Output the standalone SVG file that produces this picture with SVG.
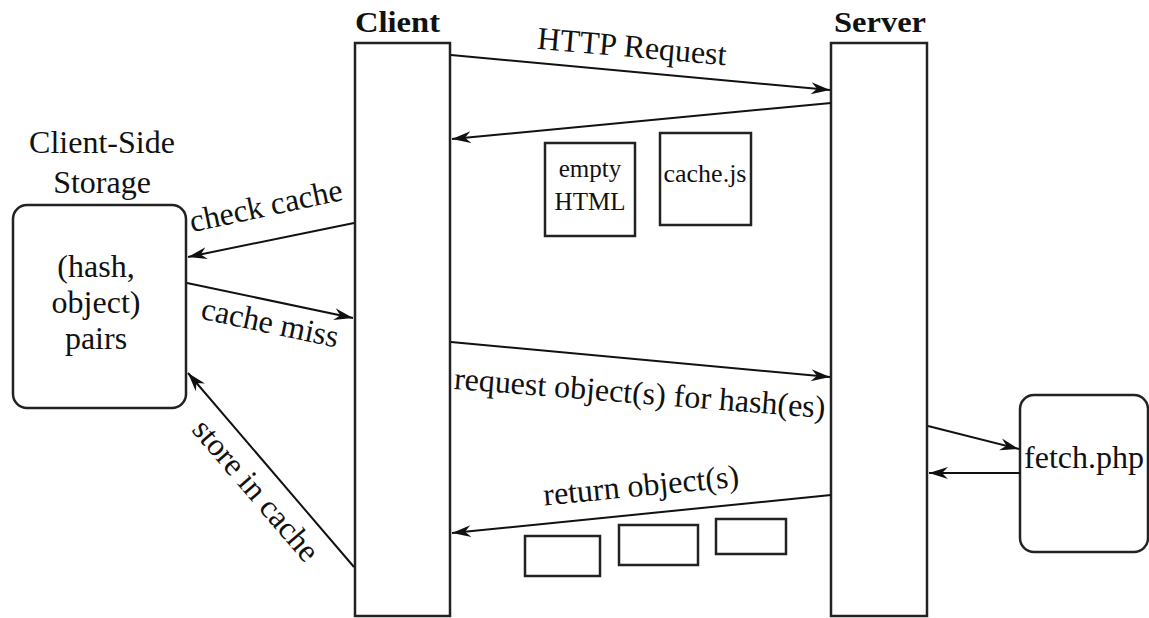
<svg xmlns="http://www.w3.org/2000/svg" width="1149" height="618" viewBox="0 0 1149 618">
<style>
text{font-family:"Liberation Serif","Times New Roman",serif;fill:#111;font-size:32px;text-anchor:middle}
.hdr{font-weight:bold;font-size:29px}
.sm{font-size:25px}
.md{font-size:26px}
.box{fill:#fff;stroke:#222;stroke-width:2.5}
.line{fill:none;stroke:#111;stroke-width:2}
</style>
<defs>
<marker id="ah" markerUnits="userSpaceOnUse" markerWidth="22" markerHeight="14" refX="19" refY="6.5" orient="auto">
<path d="M0,0.5 L19,6.5 L0,12.5 L6,6.5 z" fill="#111"/>
</marker>
</defs>
<rect width="1149" height="618" fill="#fff"/>
<g id="client">
<rect class="box" x="355" y="43" width="95" height="573"/>
<text class="hdr" x="397.5" y="32" textLength="85" lengthAdjust="spacingAndGlyphs">Client</text>
</g>
<g id="server">
<rect class="box" x="831" y="43" width="96" height="573"/>
<text class="hdr" x="880" y="32" textLength="92" lengthAdjust="spacingAndGlyphs">Server</text>
</g>
<g id="storage">
<text x="102" y="153">Client-Side</text>
<text x="102" y="193">Storage</text>
<rect class="box" x="13" y="205" width="173" height="203" rx="14"/>
<text x="96" y="277">(hash,</text>
<text x="96" y="313">object)</text>
<text x="96" y="349">pairs</text>
</g>
<g id="fetch">
<rect class="box" x="1020" y="395" width="128" height="157" rx="14"/>
<text x="1084" y="468">fetch.php</text>
</g>
<g id="emptyhtml">
<rect class="box" x="545" y="143" width="90" height="93"/>
<text class="sm" x="590" y="177">empty</text>
<text class="sm" x="590" y="210">HTML</text>
</g>
<g id="cachejs">
<rect class="box" x="660" y="133" width="91" height="92"/>
<text class="md" x="705" y="182">cache.js</text>
</g>
<g id="objects">
<rect class="box" x="525" y="536" width="75" height="40"/>
<rect class="box" x="619" y="525" width="79" height="40"/>
<rect class="box" x="716" y="519" width="70" height="35"/>
</g>
<g id="connectors">
<line class="line" x1="451" y1="55" x2="830" y2="90" marker-end="url(#ah)"/>
<line class="line" x1="831" y1="103" x2="452" y2="139" marker-end="url(#ah)"/>
<line class="line" x1="354" y1="223" x2="188" y2="257" marker-end="url(#ah)"/>
<line class="line" x1="187" y1="283" x2="353" y2="318" marker-end="url(#ah)"/>
<line class="line" x1="354" y1="567" x2="188" y2="373" marker-end="url(#ah)"/>
<line class="line" x1="451" y1="342" x2="830" y2="377" marker-end="url(#ah)"/>
<line class="line" x1="831" y1="495" x2="452" y2="533" marker-end="url(#ah)"/>
<line class="line" x1="928" y1="426" x2="1019" y2="449" marker-end="url(#ah)"/>
<line class="line" x1="1020" y1="473" x2="929" y2="473" marker-end="url(#ah)"/>
<text transform="translate(631,57) rotate(5)">HTTP Request</text>
<text transform="translate(268,216) rotate(-12)">check cache</text>
<text transform="translate(268,333) rotate(12)">cache miss</text>
<text transform="translate(248,497) rotate(49.4)">store in cache</text>
<text transform="translate(639,403.5) rotate(4.5)">request object(s) for hash(es)</text>
<text transform="translate(642,496) rotate(-5.5)">return object(s)</text>
</g>
</svg>
